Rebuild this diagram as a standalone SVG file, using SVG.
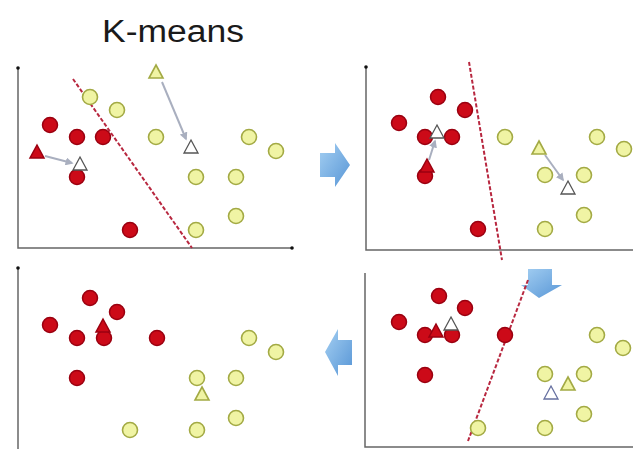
<svg xmlns="http://www.w3.org/2000/svg" xmlns:xlink="http://www.w3.org/1999/xlink" width="633" height="449" viewBox="0 0 633 449">
<style>
.axis{stroke:#666;stroke-width:1.5;fill:none}
.dot{fill:#111}
.r{fill:#cc0a18;stroke:#9a0010;stroke-width:1.5}
.y{fill:#f0f4a4;stroke:#a3aa44;stroke-width:1.6}
.w{fill:#fff;stroke:#555;stroke-width:1.3}
.wb{fill:#fff;stroke:#6670a0;stroke-width:1.3}
.sep{stroke:#b82840;stroke-width:2;stroke-dasharray:4 2;fill:none}
.mv{stroke:#a9afbf;stroke-width:2;fill:none;marker-end:url(#ah)}
.blue{fill:url(#bg)}
.title{font-family:"Liberation Sans",Arial,sans-serif;font-size:31px;fill:#1a1a1a}
</style>
<defs>
<polygon id="tri" points="0,-7 7,6 -7,6"/>
<marker id="ah" viewBox="0 0 10 10" refX="8" refY="5" markerWidth="4" markerHeight="4" orient="auto"><path d="M0,0L10,5L0,10z" fill="#a9afbf"/></marker>
<linearGradient id="bg" x1="0" y1="0" x2="1" y2="1"><stop offset="0" stop-color="#a4cff2"/><stop offset="1" stop-color="#5896d6"/></linearGradient>
</defs>
<rect width="633" height="449" fill="#fff"/>
<text class="title" x="102" y="42" textLength="142" lengthAdjust="spacingAndGlyphs">K-means</text>

<g id="axes">
<path class="axis" d="M18,68V248H292"/><circle class="dot" cx="18" cy="68" r="1.8"/><circle class="dot" cx="292" cy="248" r="1.8"/>
<path class="axis" d="M366,67V250H633"/><circle class="dot" cx="366" cy="67" r="1.8"/>
<path class="axis" d="M18,268V449"/><circle class="dot" cx="18" cy="268" r="1.8"/>
<path class="axis" d="M365,273V447H633"/>
</g>

<g id="connectors">
<polygon class="blue" points="320,153 335,153 335,143 350,165 335,187 335,177 320,177"/>
<polygon class="blue" points="528,269 552,269 552,285 562,285 539,298 521,285 528,285"/>
<polygon class="blue" points="352,340 338,340 338,329 325,352 338,376 338,365 352,365"/>
<line class="sep" x1="73" y1="79" x2="192" y2="248"/>
<line class="sep" x1="469" y1="62" x2="502" y2="260"/>
<line class="sep" x1="528" y1="280" x2="468" y2="441"/>
<line class="mv" x1="45" y1="156" x2="72" y2="163"/>
<line class="mv" x1="162" y1="82" x2="186" y2="139"/>
<line class="mv" x1="429" y1="160" x2="435" y2="141"/>
<line class="mv" x1="545" y1="155" x2="563" y2="180"/>
</g>

<g id="panel1">
<circle id="p1r1" class="r" cx="50" cy="125" r="7.5"/>
<circle id="p1r2" class="r" cx="77" cy="137" r="7.5"/>
<circle id="p1r3" class="r" cx="103" cy="137" r="7.5"/>
<circle id="p1r4" class="r" cx="77" cy="177" r="7.5"/>
<circle id="p1r5" class="r" cx="130" cy="230" r="7.5"/>
<circle id="p1y1" class="y" cx="90" cy="97" r="7.5"/>
<circle id="p1y2" class="y" cx="117" cy="110" r="7.5"/>
<circle id="p1y3" class="y" cx="156" cy="137" r="7.5"/>
<circle id="p1y4" class="y" cx="249" cy="137" r="7.5"/>
<circle id="p1y5" class="y" cx="276" cy="151" r="7.5"/>
<circle id="p1y6" class="y" cx="196" cy="177" r="7.5"/>
<circle id="p1y7" class="y" cx="236" cy="177" r="7.5"/>
<circle id="p1y8" class="y" cx="236" cy="216" r="7.5"/>
<circle id="p1y9" class="y" cx="196" cy="230" r="7.5"/>
<use id="p1tr" href="#tri" class="r" x="37" y="152"/>
<use id="p1tw1" href="#tri" class="w" x="80" y="164"/>
<use id="p1ty" href="#tri" class="y" x="156" y="72"/>
<use id="p1tw2" href="#tri" class="w" x="191" y="147"/>
</g>

<g id="panel2">
<circle id="p2r1" class="r" cx="438" cy="97" r="7.5"/>
<circle id="p2r2" class="r" cx="465" cy="110" r="7.5"/>
<circle id="p2r3" class="r" cx="399" cy="123" r="7.5"/>
<circle id="p2r4" class="r" cx="425" cy="137" r="7.5"/>
<circle id="p2r5" class="r" cx="452" cy="137" r="7.5"/>
<circle id="p2r6" class="r" cx="425" cy="176" r="7.5"/>
<circle id="p2r7" class="r" cx="478" cy="229" r="7.5"/>
<circle id="p2y1" class="y" cx="505" cy="137" r="7.5"/>
<circle id="p2y2" class="y" cx="597" cy="137" r="7.5"/>
<circle id="p2y3" class="y" cx="624" cy="149" r="7.5"/>
<circle id="p2y4" class="y" cx="545" cy="175" r="7.5"/>
<circle id="p2y5" class="y" cx="584" cy="175" r="7.5"/>
<circle id="p2y6" class="y" cx="584" cy="215" r="7.5"/>
<circle id="p2y7" class="y" cx="545" cy="229" r="7.5"/>
<use id="p2tw1" href="#tri" class="w" x="437" y="132"/>
<use id="p2tr" href="#tri" class="r" x="427" y="166"/>
<use id="p2ty" href="#tri" class="y" x="539" y="148"/>
<use id="p2tw2" href="#tri" class="w" x="568" y="188"/>
</g>

<g id="panel3">
<circle id="p3r1" class="r" cx="90" cy="298" r="7.5"/>
<circle id="p3r2" class="r" cx="117" cy="312" r="7.5"/>
<circle id="p3r3" class="r" cx="50" cy="325" r="7.5"/>
<circle id="p3r4" class="r" cx="77" cy="338" r="7.5"/>
<circle id="p3r5" class="r" cx="104" cy="338" r="7.5"/>
<circle id="p3r6" class="r" cx="157" cy="338" r="7.5"/>
<circle id="p3r7" class="r" cx="77" cy="378" r="7.5"/>
<circle id="p3y1" class="y" cx="249" cy="338" r="7.5"/>
<circle id="p3y2" class="y" cx="276" cy="352" r="7.5"/>
<circle id="p3y3" class="y" cx="197" cy="378" r="7.5"/>
<circle id="p3y4" class="y" cx="236" cy="378" r="7.5"/>
<circle id="p3y5" class="y" cx="236" cy="418" r="7.5"/>
<circle id="p3y6" class="y" cx="130" cy="430" r="7.5"/>
<circle id="p3y7" class="y" cx="197" cy="430" r="7.5"/>
<use id="p3tr" href="#tri" class="r" x="103" y="326"/>
<use id="p3ty" href="#tri" class="y" x="202" y="394"/>
</g>

<g id="panel4">
<circle id="p4r1" class="r" cx="439" cy="296" r="7.5"/>
<circle id="p4r2" class="r" cx="465" cy="308" r="7.5"/>
<circle id="p4r3" class="r" cx="399" cy="322" r="7.5"/>
<circle id="p4r4" class="r" cx="425" cy="335" r="7.5"/>
<circle id="p4r5" class="r" cx="452" cy="335" r="7.5"/>
<circle id="p4r6" class="r" cx="505" cy="335" r="7.5"/>
<circle id="p4r7" class="r" cx="425" cy="375" r="7.5"/>
<circle id="p4y1" class="y" cx="597" cy="335" r="7.5"/>
<circle id="p4y2" class="y" cx="623" cy="348" r="7.5"/>
<circle id="p4y3" class="y" cx="545" cy="374" r="7.5"/>
<circle id="p4y4" class="y" cx="584" cy="374" r="7.5"/>
<circle id="p4y5" class="y" cx="584" cy="414" r="7.5"/>
<circle id="p4y6" class="y" cx="545" cy="428" r="7.5"/>
<circle id="p4y7" class="y" cx="478" cy="428" r="7.5"/>
<use id="p4tr" href="#tri" class="r" x="436" y="331"/>
<use id="p4tw1" href="#tri" class="w" x="451" y="324"/>
<use id="p4ty" href="#tri" class="y" x="568" y="384"/>
<use id="p4tw2" href="#tri" class="wb" x="551" y="393"/>
</g>
</svg>
